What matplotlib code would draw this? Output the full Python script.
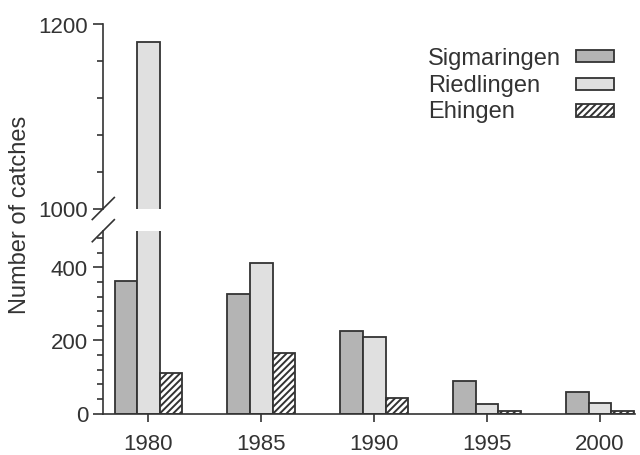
import matplotlib
matplotlib.use("Agg")
import matplotlib.pyplot as plt
from matplotlib.lines import Line2D
from matplotlib.patches import Rectangle
from matplotlib.ticker import MultipleLocator
import numpy as np

plt.rcParams['font.family'] = ['Liberation Sans', 'DejaVu Sans']
plt.rcParams['hatch.linewidth'] = 1.4
plt.rcParams['hatch.color'] = '#2a2a2a'

years = [1980, 1985, 1990, 1995, 2000]
sigmaringen = [362, 326, 227, 88, 59]
riedlingen = [1180, 411, 208, 25, 28]
ehingen = [110, 165, 43, 8, 8]
series_names = ['Sigmaringen', 'Riedlingen', 'Ehingen']

W, H = 640, 456
fig = plt.figure(figsize=(W / 100, H / 100), dpi=100)

def fx(px):
    return px / W

def fy(py):
    return 1 - py / H

left, right = 103.3, 635
ax_lo = fig.add_axes([fx(left), fy(414.5), fx(right) - fx(left), fy(231.7) - fy(414.5)])
ax_hi = fig.add_axes([fx(left), fy(209.5), fx(right) - fx(left), fy(25) - fy(209.5)], sharex=ax_lo)

edge = '#333333'
txt = '#333333'
styles = [dict(facecolor='#b4b4b4'), dict(facecolor='#e0e0e0'), dict(facecolor='white', hatch='/////')]
x = np.array(years, dtype=float)
bw = 1.0
for ax in (ax_lo, ax_hi):
    for i, vals in enumerate([sigmaringen, riedlingen, ehingen]):
        ax.bar(x + (i - 1) * bw, vals, width=bw, edgecolor=edge, linewidth=1.3,
               label=series_names[i], **styles[i])

ax_lo.set_xlim(1978.0, 2001.55)
ax_lo.set_ylim(0, 500)
ax_hi.set_ylim(1000, 1200)

for ax in (ax_lo, ax_hi):
    ax.spines['top'].set_visible(False)
    ax.spines['right'].set_visible(False)
    ax.spines['left'].set_color(edge)
    ax.spines['left'].set_linewidth(1.2)
    ax.tick_params(axis='y', which='major', length=7, width=1.2, color=edge,
                   labelsize=16, labelcolor=txt, pad=4)
    ax.tick_params(axis='y', which='minor', length=4, width=1.2, color=edge)
    ax.yaxis.set_minor_locator(MultipleLocator(40))

ax_lo.set_yticks([0, 200, 400])
ax_hi.set_yticks([1000, 1200])
ax_lo.spines['bottom'].set_color(edge)
ax_lo.spines['bottom'].set_linewidth(1.2)
ax_lo.set_xticks(years)
ax_lo.set_xticklabels([str(y) for y in years])
ax_lo.tick_params(axis='x', length=6, width=1.2, color=edge, labelsize=16,
                  labelcolor=txt, pad=8)
ax_hi.spines['bottom'].set_visible(False)
ax_hi.tick_params(axis='x', bottom=False, labelbottom=False)

# break marks
for cy in (209.5, 231.7):
    fig.add_artist(Line2D([fx(left - 11), fx(left + 11)], [fy(cy + 11), fy(cy - 11)],
                          color=edge, linewidth=1.2))

fig.text(fx(20), fy(215), 'Number of catches', rotation=90, ha='center', va='center',
         fontsize=17, color=txt)

# legend: left-aligned labels with swatches on the right
row_base = [65, 91.7, 118.3]
row_mid = [57, 85, 111.5]
for i, name in enumerate(series_names):
    fig.text(fx(428.3), fy(row_base[i]), name, ha='left', va='baseline',
             fontsize=17, color=txt)
    fig.add_artist(Rectangle((fx(576), fy(row_mid[i] + 6.3)), fx(614) - fx(576), 12.6 / H,
                             transform=fig.transFigure, edgecolor=edge, linewidth=1.3,
                             **styles[i]))

fig.savefig('out.png', dpi=100)
